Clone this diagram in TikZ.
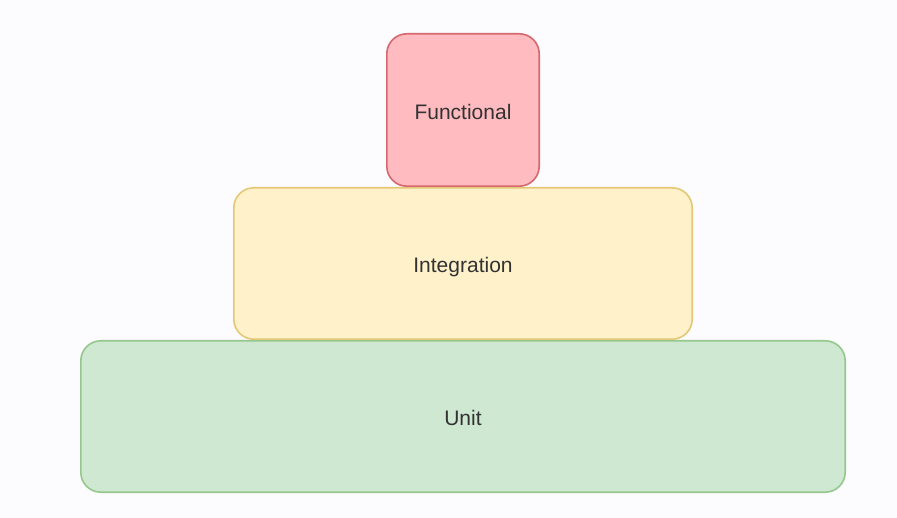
\documentclass[tikz,border=0pt]{standalone}
\usepackage{fontspec}
\setmainfont{Liberation Sans}
\definecolor{bg}{RGB}{252,251,253}
\definecolor{redfill}{RGB}{255,187,192}
\definecolor{redline}{RGB}{214,104,112}
\definecolor{yelfill}{RGB}{255,242,202}
\definecolor{yelline}{RGB}{228,200,120}
\definecolor{grnfill}{RGB}{206,232,210}
\definecolor{grnline}{RGB}{150,200,142}
\definecolor{txt}{RGB}{50,50,50}
\tikzset{
  layer/.style={draw, rectangle, rounded corners=20pt, line width=1.6pt, inner sep=0pt,
    outer sep=0pt, text=txt, font=\fontsize{21}{24}\selectfont,
    text height=15pt, text depth=0pt}
}
\begin{document}
\begin{tikzpicture}[x=1pt,y=-1pt]
\fill[bg] (0,0) rectangle (897,518);
\useasboundingbox (0,0) rectangle (897,518);
\node[layer, fill=grnfill, draw=grnline, minimum width=764.4pt, minimum height=151.4pt] (unit) at (463,416.5) {};
\node[text=txt, font=\fontsize{21}{24}\selectfont, text height=15pt, text depth=0pt] (unitlbl) at (463,418.5) {Unit};
\node[layer, fill=yelfill, draw=yelline, minimum width=458.4pt, minimum height=151.4pt] (integ) at (463,263.5) {};
\node[text=txt, font=\fontsize{21}{24}\selectfont, text height=15pt, text depth=0pt] (integlbl) at (463,265.5) {Integration};
\node[layer, fill=redfill, draw=redline, minimum width=152.4pt, minimum height=152.4pt] (func) at (463,110) {};
\node[text=txt, font=\fontsize{21}{24}\selectfont, text height=15pt, text depth=0pt] (funclbl) at (463,112) {Functional};
\end{tikzpicture}
\end{document}
